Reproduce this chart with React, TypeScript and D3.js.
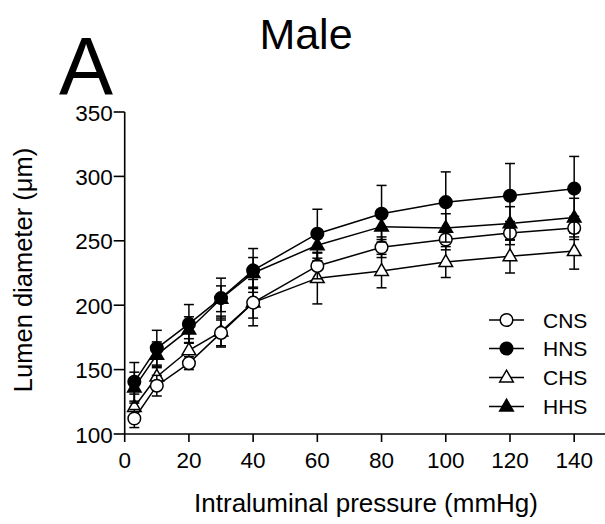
import React from "react";
import * as d3 from "d3";

const pressures = [3, 10, 20, 30, 40, 60, 80, 100, 120, 140];

const seriesNames = ["CNS", "HNS", "CHS", "HHS"];
const cnsMean = [112, 137.5, 155, 178.5, 202, 230.5, 245, 251, 256, 260];
const cnsErr = [7, 8, 5, 10, 12, 10, 8, 8, 9, 9];
const hnsMean = [140.5, 166.5, 185.5, 205.5, 227, 255.5, 271, 280, 285, 290.5];
const hnsErr = [15, 14, 15, 15.5, 17, 19, 22, 23.5, 25, 25];
const chsMean = [121, 144.5, 165, 179.5, 202, 221, 226.5, 233.5, 238, 242];
const chsErr = [10, 9, 9, 12, 18, 20, 13, 12, 13, 14];
const hhsMean = [136, 161.5, 181, 205, 225, 246.5, 261, 260, 263.5, 268];
const hhsErr = [12, 10, 10, 10, 12, 12, 10, 11, 13, 15];

const xTicks = [0, 20, 40, 60, 80, 100, 120, 140];
const yTicks = [100, 150, 200, 250, 300, 350];

const titleText = "Male";
const panelLetter = "A";
const xTitle = "Intraluminal pressure (mmHg)";
const yTitle = "Lumen diameter (\u03bcm)";

type Series = { name: string; mean: number[]; err: number[]; filled: boolean; shape: "circle" | "triangle" };

const series: Series[] = [
  { name: seriesNames[0], mean: cnsMean, err: cnsErr, filled: false, shape: "circle" },
  { name: seriesNames[1], mean: hnsMean, err: hnsErr, filled: true, shape: "circle" },
  { name: seriesNames[2], mean: chsMean, err: chsErr, filled: false, shape: "triangle" },
  { name: seriesNames[3], mean: hhsMean, err: hhsErr, filled: true, shape: "triangle" },
];

const drawOrder = [2, 0, 3, 1];

const FONT = "'Liberation Sans', Arial, Helvetica, sans-serif";

function Marker({ s, cx, cy }: { s: Series; cx: number; cy: number }) {
  const fill = s.filled ? "#000" : "#fff";
  if (s.shape === "circle") {
    return <circle cx={cx} cy={cy} r={6.3} fill={fill} stroke="#000" strokeWidth={1.5} />;
  }
  const path = d3.symbol(d3.symbolTriangle, 80)() as string;
  return <path d={path} transform={`translate(${cx},${cy + 0.5})`} fill={fill} stroke="#000" strokeWidth={1.5} />;
}

export default function App() {
  const W = 605;
  const H = 524;
  const x = d3.scaleLinear().domain([0, 150]).range([124.7, 606.3]);
  const y = d3.scaleLinear().domain([100, 350]).range([434, 112]);
  const line = d3
    .line<number>()
    .x((_, i) => x(pressures[i]))
    .y((d) => y(d));
  const cap = 5;

  const legendY = [320, 348.5, 377.5, 406.5];

  return (
    <svg
      width={W}
      height={H}
      style={{ position: "absolute", left: 0, top: 0, background: "#fff" }}
      fontFamily={FONT}
    >
      <rect width={W} height={H} fill="#fff" />
      {/* titles */}
      <text x={306} y={49} fontSize={43} textAnchor="middle" fill="#000">
        {titleText}
      </text>
      <text x={59} y={94} fontSize={81} fill="#000">
        {panelLetter}
      </text>

      {/* y axis */}
      <line x1={x(0)} x2={x(0)} y1={y(350)} y2={y(100)} stroke="#000" strokeWidth={1.6} />
      {yTicks.map((t) => (
        <g key={"y" + t}>
          <line x1={x(0) - 11} x2={x(0)} y1={y(t)} y2={y(t)} stroke="#000" strokeWidth={1.6} />
          <text x={x(0) - 12} y={y(t) + 8.5} fontSize={22.5} textAnchor="end" fill="#000">
            {t}
          </text>
        </g>
      ))}
      {/* x axis */}
      <line x1={x(0)} x2={x(150)} y1={y(100)} y2={y(100)} stroke="#000" strokeWidth={1.6} />
      {xTicks.map((t) => (
        <g key={"x" + t}>
          <line x1={x(t)} x2={x(t)} y1={y(100)} y2={y(100) + 8} stroke="#000" strokeWidth={1.6} />
          <text x={x(t)} y={y(100) + 34} fontSize={22.5} textAnchor="middle" fill="#000">
            {t}
          </text>
        </g>
      ))}
      <text x={366} y={512} fontSize={26} textAnchor="middle" fill="#000">
        {xTitle}
      </text>
      <text
        transform={`translate(32,270) rotate(-90)`}
        fontSize={25.5}
        textAnchor="middle"
        fill="#000"
      >
        {yTitle}
      </text>

      {/* series */}
      {drawOrder.map((si) => {
        const s = series[si];
        return (
          <g key={s.name}>
            <path d={line(s.mean) as string} fill="none" stroke="#000" strokeWidth={1.5} />
            {s.mean.map((m, i) => {
              const cx = x(pressures[i]);
              const yt = y(m + s.err[i]);
              const yb = y(m - s.err[i]);
              return (
                <g key={i}>
                  <line x1={cx} x2={cx} y1={yt} y2={yb} stroke="#000" strokeWidth={1.5} />
                  <line x1={cx - cap} x2={cx + cap} y1={yt} y2={yt} stroke="#000" strokeWidth={1.5} />
                  <line x1={cx - cap} x2={cx + cap} y1={yb} y2={yb} stroke="#000" strokeWidth={1.5} />
                </g>
              );
            })}
            {s.mean.map((m, i) => (
              <Marker key={"m" + i} s={s} cx={x(pressures[i])} cy={y(m)} />
            ))}
          </g>
        );
      })}

      {/* legend */}
      {series.map((s, i) => (
        <g key={"lg" + s.name}>
          <line x1={489} x2={524} y1={legendY[i]} y2={legendY[i]} stroke="#000" strokeWidth={1.5} />
          <Marker s={s} cx={506.5} cy={legendY[i]} />
          <text x={543} y={legendY[i] + 7.5} fontSize={21} fill="#000">
            {s.name}
          </text>
        </g>
      ))}
    </svg>
  );
}
